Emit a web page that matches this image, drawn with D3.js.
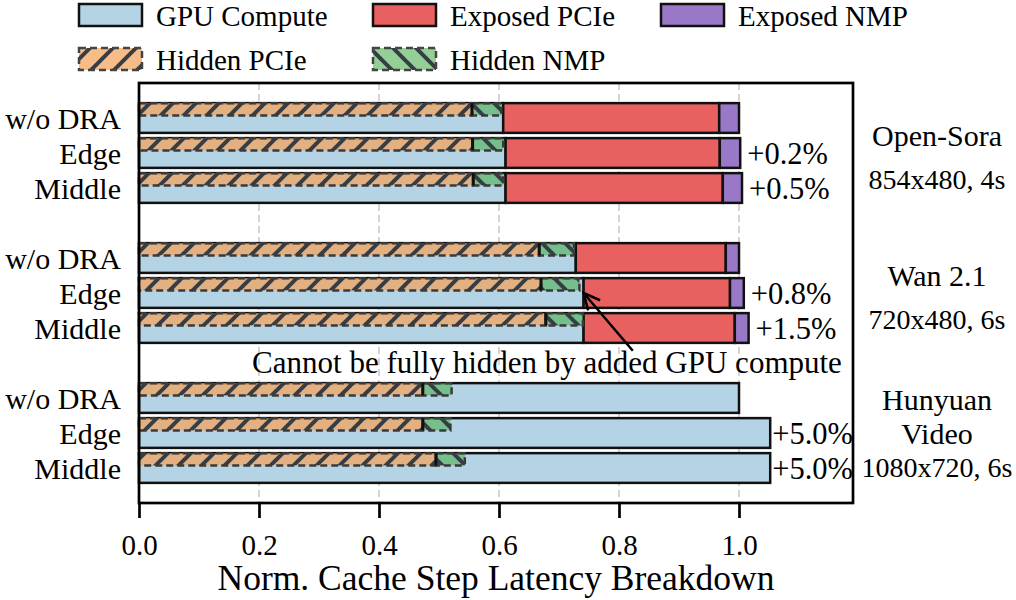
<!DOCTYPE html>
<html>
<head>
<meta charset="utf-8">
<script src="https://cdn.jsdelivr.net/npm/d3@7"></script>
<style>
  body { margin: 0; background: #fff; }
  svg { font-family: "Liberation Serif", "Times New Roman", serif; }
</style>
</head>
<body>
<div id="chart"></div>
<script>
// data (normalized latency, w/o DRA = 1.0)
const configs = ["w/o DRA", "Edge", "Middle"];
const workloads = ["Open-Sora", "Wan 2.1", "HunyuanVideo"];
const workloadLabels = [["Open-Sora", "854x480, 4s"], ["Wan 2.1", "720x480, 6s"], ["Hunyuan", "Video", "1080x720, 6s"]];

const gpuCompute  = [0.607, 0.611, 0.611, 0.728, 0.741, 0.741, 1.000, 1.052, 1.052];
const exposedPCIe = [0.360, 0.357, 0.362, 0.250, 0.244, 0.252, 0.000, 0.000, 0.000];
const exposedNMP  = [0.033, 0.034, 0.032, 0.022, 0.023, 0.023, 0.000, 0.000, 0.000];
const hiddenPCIe  = [0.555, 0.556, 0.557, 0.667, 0.670, 0.678, 0.473, 0.473, 0.495];
const hiddenNMP   = [0.049, 0.051, 0.050, 0.058, 0.064, 0.062, 0.048, 0.046, 0.048];
const overheads   = ["", "+0.2%", "+0.5%", "", "+0.8%", "+1.5%", "", "+5.0%", "+5.0%"];

const xTicks = [0.0, 0.2, 0.4, 0.6, 0.8, 1.0];

// annotation (data units)
const noteText = "Cannot be fully hidden by added GPU compute";
const notePos = [0.68, 6.97];
const noteTail = [0.823, 6.65];
const noteTarget = 4; // Wan 2.1 Edge

const w = 1016, h = 600;
const margin = {left: 139, right: 163, top: 83, bottom: 97};

const colors = {
  gpu: "#b4d4e6",
  pcie: "#e8605f",
  nmp: "#9a78c8",
  hpcie: "#f5a25a",
  hnmp: "#4caf50",
  hatch: "#363d44"
};

// one row per bar, y position leaves a gap between workloads
const rows = gpuCompute.map((g, i) => ({
  i: i,
  pos: Math.floor(i / 3) * 4 + (i % 3),
  config: configs[i % 3],
  gpu: g,
  pcie: exposedPCIe[i],
  nmp: exposedNMP[i],
  hp: hiddenPCIe[i],
  hn: hiddenNMP[i],
  label: overheads[i]
}));

const svg = d3.select("#chart").append("svg")
  .attr("width", w)
  .attr("height", h);

const defs = svg.append("defs");

function hatchPattern(id, dir) {
  const s = 23;
  const p = defs.append("pattern")
    .attr("id", id)
    .attr("patternUnits", "userSpaceOnUse")
    .attr("width", s)
    .attr("height", s);
  const segs = dir > 0
    ? [[0, s, s, 0], [-4, 4, 4, -4], [s - 4, s + 4, s + 4, s - 4]]
    : [[0, 0, s, s], [-4, s - 4, 4, s + 4], [s - 4, -4, s + 4, 4]];
  segs.forEach(d => p.append("line")
    .attr("x1", d[0]).attr("y1", d[1]).attr("x2", d[2]).attr("y2", d[3])
    .attr("stroke", colors.hatch)
    .attr("stroke-width", 4));
}
hatchPattern("hatchFwd", 1);
hatchPattern("hatchBack", -1);

const x = d3.scaleLinear()
  .domain([0, 1.19])
  .range([margin.left, w - margin.right]);

const y = d3.scaleLinear()
  .domain([-1, 11])
  .range([margin.top, h - margin.bottom]);

const barH = 0.85;
const hidH = 0.35;

// grid
svg.append("g")
  .selectAll("line")
  .data(xTicks.slice(1))
  .enter()
  .append("line")
  .attr("x1", d => x(d)).attr("x2", d => x(d))
  .attr("y1", y(-1)).attr("y2", y(11))
  .attr("stroke", "#c8c8c8")
  .attr("stroke-width", 1.5)
  .attr("stroke-dasharray", "7,4");

// stacked exposed bars
const bars = svg.append("g");
const segs = [];
rows.forEach(r => {
  segs.push({pos: r.pos, x0: 0, x1: r.gpu, c: colors.gpu});
  if (r.pcie > 0) segs.push({pos: r.pos, x0: r.gpu, x1: r.gpu + r.pcie, c: colors.pcie});
  if (r.nmp > 0) segs.push({pos: r.pos, x0: r.gpu + r.pcie, x1: r.gpu + r.pcie + r.nmp, c: colors.nmp});
});

bars.selectAll("rect")
  .data(segs)
  .enter()
  .append("rect")
  .attr("x", d => x(d.x0))
  .attr("width", d => x(d.x1) - x(d.x0))
  .attr("y", d => y(d.pos - barH / 2))
  .attr("height", d => y(barH) - y(0))
  .attr("fill", d => d.c)
  .attr("stroke", "#111")
  .attr("stroke-width", 2.5);

// hidden (overlapped) parts on the top of each bar
const hid = [];
rows.forEach(r => {
  hid.push({pos: r.pos, x0: 0, x1: r.hp, c: colors.hpcie, op: 0.72, pat: "hatchFwd"});
  hid.push({pos: r.pos, x0: r.hp, x1: r.hp + r.hn, c: colors.hnmp, op: 0.6, pat: "hatchBack"});
});

const hg = svg.append("g");
hg.selectAll("rect.fill")
  .data(hid)
  .enter()
  .append("rect")
  .attr("class", "fill")
  .attr("x", d => x(d.x0))
  .attr("width", d => x(d.x1) - x(d.x0))
  .attr("y", d => y(d.pos - barH / 2))
  .attr("height", d => y(hidH) - y(0))
  .attr("fill", d => d.c)
  .attr("fill-opacity", d => d.op);

hg.selectAll("rect.hatch")
  .data(hid)
  .enter()
  .append("rect")
  .attr("class", "hatch")
  .attr("x", d => x(d.x0))
  .attr("width", d => x(d.x1) - x(d.x0))
  .attr("y", d => y(d.pos - barH / 2))
  .attr("height", d => y(hidH) - y(0))
  .attr("fill", d => `url(#${d.pat})`)
  .attr("stroke", "#3a3a3a")
  .attr("stroke-width", 2.5)
  .attr("stroke-dasharray", "7,4");

// solid split between hidden PCIe and hidden NMP
hg.selectAll("line")
  .data(rows)
  .enter()
  .append("line")
  .attr("x1", d => x(d.hp)).attr("x2", d => x(d.hp))
  .attr("y1", d => y(d.pos - barH / 2))
  .attr("y2", d => y(d.pos - barH / 2 + hidH))
  .attr("stroke", "#111")
  .attr("stroke-width", 3);

// frame
svg.append("rect")
  .attr("x", x(0)).attr("y", y(-1))
  .attr("width", x(1.19) - x(0))
  .attr("height", y(11) - y(-1))
  .attr("fill", "none")
  .attr("stroke", "#000")
  .attr("stroke-width", 2.7);

// x axis
const xAxis = d3.axisBottom(x)
  .tickValues(xTicks)
  .tickFormat(d3.format(".1f"))
  .tickSize(15)
  .tickPadding(16);

const xa = svg.append("g")
  .attr("transform", `translate(0, ${y(11)})`)
  .call(xAxis);
xa.select(".domain").remove();
xa.selectAll(".tick line").attr("stroke", "#000").attr("stroke-width", 2.7);
xa.selectAll(".tick text")
  .attr("fill", "#000")
  .style("font-size", "29px")
  .style("font-family", "Liberation Serif, Times New Roman, serif");

svg.append("text")
  .attr("x", (x(0) + x(1.19)) / 2)
  .attr("y", 590)
  .attr("text-anchor", "middle")
  .style("font-size", "35.5px")
  .text("Norm. Cache Step Latency Breakdown");

// category labels
svg.append("g")
  .selectAll("text")
  .data(rows)
  .enter()
  .append("text")
  .attr("x", x(0) - 18)
  .attr("y", d => y(d.pos))
  .attr("dy", "0.35em")
  .attr("text-anchor", "end")
  .style("font-size", "30px")
  .text(d => d.config);

// overhead labels, kept inside the frame
const right = x(1.19);
svg.append("g")
  .selectAll("text")
  .data(rows.filter(r => r.label !== ""))
  .enter()
  .append("text")
  .attr("y", d => y(d.pos))
  .attr("dy", "0.35em")
  .style("font-size", "30.5px")
  .text(d => d.label)
  .attr("x", function(d) {
    const end = x(d.gpu + d.pcie + d.nmp);
    return Math.min(end + 7, right - this.getComputedTextLength());
  });

// workload labels on the right
const lineOffsets = {2: [-18, 26], 3: [-34, 0, 34]};
workloadLabels.forEach((lines, gi) => {
  const cy = y(gi * 4 + 1);
  lines.forEach((t, li) => {
    svg.append("text")
      .attr("x", 937)
      .attr("y", cy + lineOffsets[lines.length][li])
      .attr("dy", "0.35em")
      .attr("text-anchor", "middle")
      .style("font-size", li === 0 || lines.length === 3 && li === 1 ? "30px" : "28px")
      .text(t);
  });
});

// annotation
const tgt = rows[noteTarget];
const tipX = x(tgt.gpu), tipY = y(tgt.pos);
const tailX = x(noteTail[0]), tailY = y(noteTail[1]);
svg.append("line")
  .attr("x1", tailX).attr("y1", tailY)
  .attr("x2", tipX).attr("y2", tipY)
  .attr("stroke", "#000")
  .attr("stroke-width", 2.5);
const ang = Math.atan2(tailY - tipY, tailX - tipX);
const headLen = 18, spread = 0.45;
svg.append("path")
  .attr("d", `M${tipX + headLen * Math.cos(ang - spread)},${tipY + headLen * Math.sin(ang - spread)}` +
             `L${tipX},${tipY}` +
             `L${tipX + headLen * Math.cos(ang + spread)},${tipY + headLen * Math.sin(ang + spread)}`)
  .attr("fill", "none")
  .attr("stroke", "#000")
  .attr("stroke-width", 2.5);

svg.append("text")
  .attr("x", x(notePos[0]))
  .attr("y", y(notePos[1]))
  .attr("dy", "0.35em")
  .attr("text-anchor", "middle")
  .style("font-size", "31px")
  .text(noteText);

// legend
const legendItems = [
  {name: "GPU Compute", c: colors.gpu, col: 0, row: 0},
  {name: "Exposed PCIe", c: colors.pcie, col: 1, row: 0},
  {name: "Exposed NMP", c: colors.nmp, col: 2, row: 0},
  {name: "Hidden PCIe", c: colors.hpcie, op: 0.72, pat: "hatchFwd", col: 0, row: 1},
  {name: "Hidden NMP", c: colors.hnmp, op: 0.6, pat: "hatchBack", col: 1, row: 1}
];
const legendX = [79, 373, 661], legendY = [4, 48];

const legend = svg.append("g").attr("id", "legend");
legendItems.forEach(it => {
  const lx = legendX[it.col], ly = legendY[it.row];
  legend.append("rect")
    .attr("x", lx).attr("y", ly)
    .attr("width", 63).attr("height", 22)
    .attr("fill", it.c)
    .attr("fill-opacity", it.op || 1)
    .attr("stroke", it.pat ? "none" : "#111")
    .attr("stroke-width", 2.5);
  if (it.pat) {
    legend.append("rect")
      .attr("x", lx).attr("y", ly)
      .attr("width", 63).attr("height", 22)
      .attr("fill", `url(#${it.pat})`)
      .attr("stroke", "#444")
      .attr("stroke-width", 2.5)
      .attr("stroke-dasharray", "7,4");
  }
  legend.append("text")
    .attr("x", lx + 77)
    .attr("y", ly + 22)
    .style("font-size", "29px")
    .text(it.name);
});
</script>
</body>
</html>
